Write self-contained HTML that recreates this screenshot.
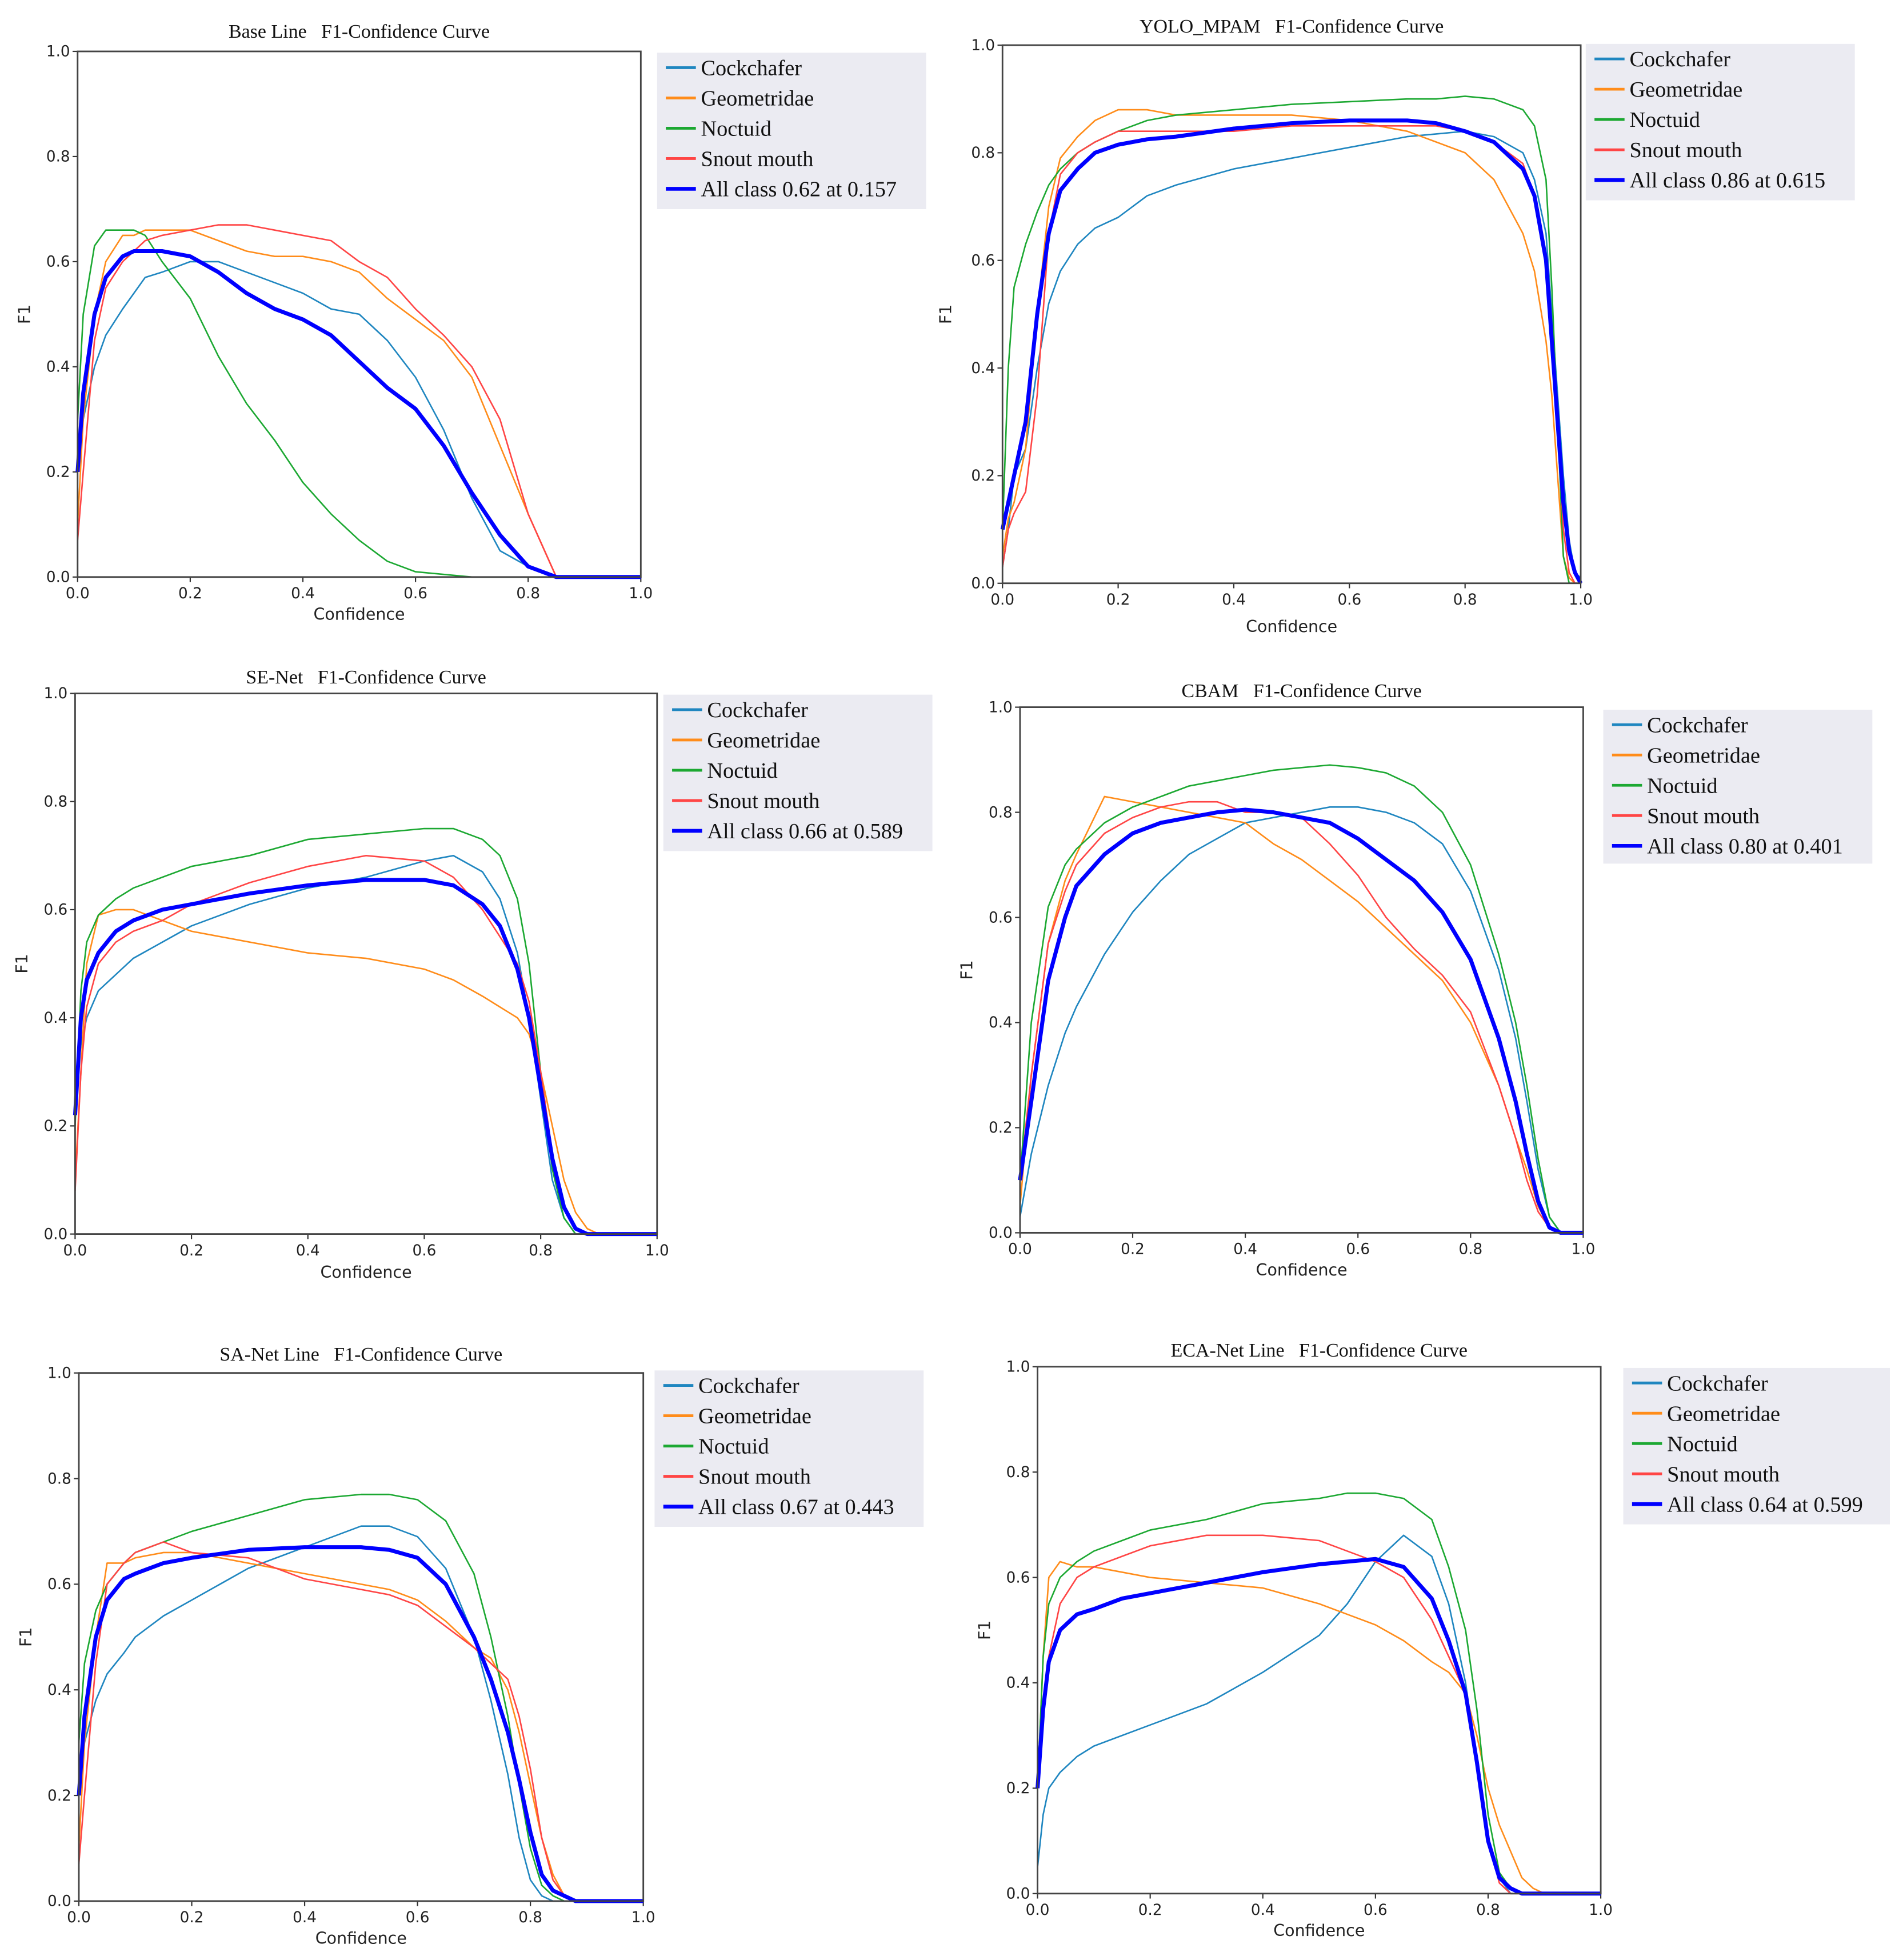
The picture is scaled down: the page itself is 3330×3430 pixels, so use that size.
<!DOCTYPE html>
<html><head><meta charset="utf-8">
<style>
html,body{margin:0;padding:0;background:#fff;}
svg{display:block;}
.tick{font-family:"DejaVu Sans","Liberation Sans",sans-serif;font-size:12px;fill:#222;}
.lab{font-family:"DejaVu Sans","Liberation Sans",sans-serif;font-size:13px;fill:#222;}
.ttl{font-family:"Liberation Serif",serif;font-size:15.5px;fill:#111;white-space:pre;}
.leg{font-family:"Liberation Serif",serif;font-size:17.5px;fill:#111;}
</style></head>
<body>
<svg id="fig" xmlns="http://www.w3.org/2000/svg" width="3330" height="3430" viewBox="0 0 1520.5 1566"></svg>
<script>
const seriesNames = ["Cockchafer","Geometridae","Noctuid","Snout mouth"];
const xTicks = [0,0.2,0.4,0.6,0.8,1.0];
const xTickLabels = ["0.0","0.2","0.4","0.6","0.8","1.0"];
const yTicks = [0,0.2,0.4,0.6,0.8,1.0];
const yTickLabels = ["0.0","0.2","0.4","0.6","0.8","1.0"];

const titles = ["Base Line   F1-Confidence Curve","YOLO_MPAM   F1-Confidence Curve","SE-Net   F1-Confidence Curve","CBAM   F1-Confidence Curve","SA-Net Line   F1-Confidence Curve","ECA-Net Line   F1-Confidence Curve"];
const allClassLabels = ["All class 0.62 at 0.157","All class 0.86 at 0.615","All class 0.66 at 0.589","All class 0.80 at 0.401","All class 0.67 at 0.443","All class 0.64 at 0.599"];

const x1 = [0,0.01,0.03,0.05,0.08,0.1,0.12,0.15,0.2,0.25,0.3,0.35,0.4,0.45,0.5,0.55,0.6,0.65,0.7,0.75,0.8,0.85,0.9,1.0];
const c1 = [0.2,0.3,0.4,0.46,0.51,0.54,0.57,0.58,0.6,0.6,0.58,0.56,0.54,0.51,0.5,0.45,0.38,0.28,0.15,0.05,0.02,0,0,0];
const g1 = [0.1,0.3,0.5,0.6,0.65,0.65,0.66,0.66,0.66,0.64,0.62,0.61,0.61,0.6,0.58,0.53,0.49,0.45,0.38,0.25,0.12,0,0,0];
const n1 = [0.3,0.5,0.63,0.66,0.66,0.66,0.65,0.6,0.53,0.42,0.33,0.26,0.18,0.12,0.07,0.03,0.01,0.005,0,0,0,0,0,0];
const s1 = [0.07,0.2,0.45,0.55,0.6,0.62,0.64,0.65,0.66,0.67,0.67,0.66,0.65,0.64,0.6,0.57,0.51,0.46,0.4,0.3,0.12,0,0,0];
const a1 = [0.2,0.35,0.5,0.57,0.61,0.62,0.62,0.62,0.61,0.58,0.54,0.51,0.49,0.46,0.41,0.36,0.32,0.25,0.16,0.08,0.02,0,0,0];

const x2 = [0,0.01,0.02,0.04,0.06,0.08,0.1,0.13,0.16,0.2,0.25,0.3,0.4,0.5,0.6,0.7,0.75,0.8,0.85,0.9,0.92,0.94,0.95,0.96,0.97,0.98,0.99,1.0];
const c2 = [0.03,0.1,0.2,0.25,0.4,0.52,0.58,0.63,0.66,0.68,0.72,0.74,0.77,0.79,0.81,0.83,0.835,0.84,0.83,0.8,0.75,0.65,0.5,0.35,0.2,0.08,0.02,0.01];
const g2 = [0.05,0.12,0.15,0.25,0.5,0.7,0.79,0.83,0.86,0.88,0.88,0.87,0.87,0.87,0.86,0.84,0.82,0.8,0.75,0.65,0.58,0.45,0.35,0.2,0.05,0.01,0,0];
const n2 = [0.1,0.4,0.55,0.63,0.69,0.74,0.77,0.8,0.82,0.84,0.86,0.87,0.88,0.89,0.895,0.9,0.9,0.905,0.9,0.88,0.85,0.75,0.55,0.3,0.05,0,0,0];
const s2 = [0.03,0.1,0.13,0.17,0.35,0.65,0.76,0.8,0.82,0.84,0.84,0.84,0.84,0.85,0.85,0.85,0.85,0.84,0.82,0.78,0.72,0.6,0.45,0.3,0.1,0.02,0,0];
const a2 = [0.1,0.15,0.2,0.3,0.5,0.65,0.73,0.77,0.8,0.815,0.825,0.83,0.845,0.855,0.86,0.86,0.855,0.84,0.82,0.77,0.72,0.6,0.45,0.3,0.15,0.06,0.02,0];

const x3 = [0,0.01,0.02,0.04,0.07,0.1,0.15,0.2,0.3,0.4,0.5,0.6,0.65,0.7,0.73,0.76,0.78,0.8,0.82,0.84,0.86,0.88,0.9,1.0];
const c3 = [0.25,0.35,0.4,0.45,0.48,0.51,0.54,0.57,0.61,0.64,0.66,0.69,0.7,0.67,0.62,0.52,0.4,0.25,0.1,0.03,0,0,0,0];
const g3 = [0.1,0.3,0.5,0.59,0.6,0.6,0.58,0.56,0.54,0.52,0.51,0.49,0.47,0.44,0.42,0.4,0.37,0.3,0.2,0.1,0.04,0.01,0,0];
const n3 = [0.2,0.45,0.54,0.59,0.62,0.64,0.66,0.68,0.7,0.73,0.74,0.75,0.75,0.73,0.7,0.62,0.5,0.3,0.12,0.03,0,0,0,0];
const s3 = [0.08,0.3,0.42,0.5,0.54,0.56,0.58,0.61,0.65,0.68,0.7,0.69,0.66,0.6,0.55,0.5,0.43,0.3,0.15,0.05,0.01,0,0,0];
const a3 = [0.22,0.4,0.47,0.52,0.56,0.58,0.6,0.61,0.63,0.645,0.655,0.655,0.645,0.61,0.57,0.49,0.4,0.27,0.14,0.05,0.01,0,0,0];

const x4 = [0,0.02,0.05,0.08,0.1,0.15,0.2,0.25,0.3,0.35,0.4,0.45,0.5,0.55,0.6,0.65,0.7,0.75,0.8,0.85,0.88,0.9,0.92,0.94,0.96,1.0];
const c4 = [0.03,0.15,0.28,0.38,0.43,0.53,0.61,0.67,0.72,0.75,0.78,0.79,0.8,0.81,0.81,0.8,0.78,0.74,0.65,0.5,0.37,0.25,0.12,0.03,0,0];
const g4 = [0.05,0.3,0.55,0.67,0.72,0.83,0.82,0.81,0.8,0.79,0.78,0.74,0.71,0.67,0.63,0.58,0.53,0.48,0.4,0.28,0.18,0.12,0.05,0.01,0,0];
const n4 = [0.1,0.4,0.62,0.7,0.73,0.78,0.81,0.83,0.85,0.86,0.87,0.88,0.885,0.89,0.885,0.875,0.85,0.8,0.7,0.53,0.4,0.28,0.14,0.03,0,0];
const s4 = [0.1,0.3,0.55,0.65,0.7,0.76,0.79,0.81,0.82,0.82,0.8,0.8,0.79,0.74,0.68,0.6,0.54,0.49,0.42,0.28,0.18,0.1,0.04,0.01,0,0];
const a4 = [0.1,0.25,0.48,0.6,0.66,0.72,0.76,0.78,0.79,0.8,0.805,0.8,0.79,0.78,0.75,0.71,0.67,0.61,0.52,0.37,0.25,0.15,0.06,0.01,0,0];

const x5 = [0,0.01,0.03,0.05,0.08,0.1,0.15,0.2,0.3,0.4,0.5,0.55,0.6,0.65,0.7,0.73,0.76,0.78,0.8,0.82,0.84,0.86,0.88,0.9,1.0];
const c5 = [0.2,0.3,0.38,0.43,0.47,0.5,0.54,0.57,0.63,0.67,0.71,0.71,0.69,0.63,0.5,0.38,0.24,0.12,0.04,0.01,0,0,0,0,0];
const g5 = [0.1,0.3,0.5,0.64,0.64,0.65,0.66,0.66,0.64,0.62,0.6,0.59,0.57,0.53,0.48,0.46,0.4,0.32,0.22,0.12,0.05,0.01,0,0,0];
const n5 = [0.3,0.45,0.55,0.6,0.64,0.66,0.68,0.7,0.73,0.76,0.77,0.77,0.76,0.72,0.62,0.5,0.35,0.22,0.1,0.03,0.01,0,0,0,0];
const s5 = [0.07,0.2,0.45,0.6,0.64,0.66,0.68,0.66,0.65,0.61,0.59,0.58,0.56,0.52,0.48,0.45,0.42,0.35,0.25,0.12,0.04,0.01,0,0,0];
const a5 = [0.2,0.35,0.5,0.57,0.61,0.62,0.64,0.65,0.665,0.67,0.67,0.665,0.65,0.6,0.5,0.42,0.32,0.23,0.13,0.05,0.02,0.01,0,0,0];

const x6 = [0,0.01,0.02,0.04,0.07,0.1,0.15,0.2,0.3,0.4,0.5,0.55,0.6,0.65,0.7,0.73,0.76,0.78,0.8,0.82,0.84,0.86,0.88,0.9,1.0];
const c6 = [0.05,0.15,0.2,0.23,0.26,0.28,0.3,0.32,0.36,0.42,0.49,0.55,0.63,0.68,0.64,0.55,0.4,0.25,0.1,0.03,0,0,0,0,0];
const g6 = [0.2,0.45,0.6,0.63,0.62,0.62,0.61,0.6,0.59,0.58,0.55,0.53,0.51,0.48,0.44,0.42,0.38,0.3,0.2,0.13,0.08,0.03,0.01,0,0];
const n6 = [0.2,0.45,0.55,0.6,0.63,0.65,0.67,0.69,0.71,0.74,0.75,0.76,0.76,0.75,0.71,0.62,0.5,0.35,0.15,0.04,0.01,0,0,0,0];
const s6 = [0.2,0.35,0.45,0.55,0.6,0.62,0.64,0.66,0.68,0.68,0.67,0.65,0.63,0.6,0.52,0.45,0.38,0.25,0.1,0.02,0,0,0,0,0];
const a6 = [0.2,0.35,0.44,0.5,0.53,0.54,0.56,0.57,0.59,0.61,0.625,0.63,0.635,0.62,0.56,0.48,0.38,0.25,0.1,0.03,0.01,0,0,0,0];

const panelData = [
  {x:x1, s:[c1,g1,n1,s1], a:a1},
  {x:x2, s:[c2,g2,n2,s2], a:a2},
  {x:x3, s:[c3,g3,n3,s3], a:a3},
  {x:x4, s:[c4,g4,n4,s4], a:a4},
  {x:x5, s:[c5,g5,n5,s5], a:a5},
  {x:x6, s:[c6,g6,n6,s6], a:a6}
];

const layout = [
  {l:62,r:512,t:41,b:461,lg:[525,42,215,125],ty:25,cy:491,fx:24},
  {l:801,r:1263,t:36,b:466,lg:[1267,35,215,125],ty:21,cy:501,fx:760},
  {l:60,r:525,t:554,b:986,lg:[530,555,215,125],ty:541,cy:1017,fx:22},
  {l:815,r:1265,t:565,b:985,lg:[1281,567,215,123],ty:552,cy:1015,fx:777},
  {l:63,r:514,t:1097,b:1519,lg:[523,1095,215,125],ty:1082,cy:1549,fx:25},
  {l:829,r:1279,t:1092,b:1513,lg:[1297,1093,213,125],ty:1079,cy:1543,fx:791}
];
const colors = ["#1f86c0","#ff8c1a","#1ca832","#ff4545"];
const NS = "http://www.w3.org/2000/svg";
const fig = document.getElementById('fig');
function mk(tag, attrs, parent){const e=document.createElementNS(NS,tag);for(const k in attrs)e.setAttribute(k,attrs[k]);(parent||fig).appendChild(e);return e;}

panelData.forEach((pd, i) => {
  const L = layout[i];
  const g = mk('g', {});
  
  
  const sx = v => L.l + v * (L.r - L.l);
  const sy = v => L.b - v * (L.b - L.t);
  const t = mk('text', {x:(L.l+L.r)/2, y:L.ty+5, 'text-anchor':'middle', class:'ttl', 'xml:space':'preserve'}, g);
  t.textContent = titles[i];
  
  
  xTicks.forEach((v, k) => {
    mk('line', {x1:sx(v), x2:sx(v), y1:L.b, y2:L.b+4, stroke:'#333', 'stroke-width':1}, g);
    const tl = mk('text', {x:sx(v), y:L.b+17, 'text-anchor':'middle', class:'tick'}, g);
    tl.textContent = xTickLabels[k];
    
    
  });
  yTicks.forEach((v, k) => {
    mk('line', {x1:L.l-4, x2:L.l, y1:sy(v), y2:sy(v), stroke:'#333', 'stroke-width':1}, g);
    const tl = mk('text', {x:L.l-6, y:sy(v)+4, 'text-anchor':'end', class:'tick'}, g);
    tl.textContent = yTickLabels[k];
    
    
  });
  const xl = mk('text', {x:(L.l+L.r)/2, y:L.cy+4, 'text-anchor':'middle', class:'lab'}, g);
  xl.textContent = 'Confidence';
  
  
  const yc = (L.t+L.b)/2;
  const yl = mk('text', {x:L.fx, y:yc, 'text-anchor':'middle', class:'lab', transform:'rotate(-90 '+L.fx+' '+yc+')'}, g);
  yl.textContent = 'F1';
  
  
  pd.s.forEach((vals, k) => {
    const pts = vals.map((v, j) => sx(pd.x[j]).toFixed(2) + ',' + sy(v).toFixed(2)).join(' ');
    const pl = mk('polyline', {points:pts, fill:'none', stroke:colors[k], 'stroke-width':1.2, 'stroke-linejoin':'round'}, g);
    
    
  });
  const apts = pd.a.map((v, j) => sx(pd.x[j]).toFixed(2) + ',' + sy(v).toFixed(2)).join(' ');
  const ap = mk('polyline', {points:apts, fill:'none', stroke:'#0000ff', 'stroke-width':3.2, 'stroke-linejoin':'round'}, g);
  
  
  const fr = mk('rect', {x:L.l, y:L.t, width:L.r-L.l, height:L.b-L.t, fill:'none', stroke:'#444', 'stroke-width':1.3}, g);
  
  
  const lg = mk('g', {}, g);
  
  
  mk('rect', {x:L.lg[0], y:L.lg[1], width:L.lg[2], height:L.lg[3], fill:'#ebebf2'}, lg);
  const names = seriesNames.concat([allClassLabels[i]]);
  const cols = colors.concat(['#0000ff']);
  names.forEach((nm, k) => {
    const yy = L.lg[1] + 12 + k * 24.2;
    const e = mk('g', {}, lg);
    
    
    mk('line', {x1:L.lg[0]+7, x2:L.lg[0]+31, y1:yy, y2:yy, stroke:cols[k], 'stroke-width':k==4?3:2.2}, e);
    const tx = mk('text', {x:L.lg[0]+35, y:yy+6, class:'leg'}, e);
    tx.textContent = nm;
  });
});
</script>
</body></html>
